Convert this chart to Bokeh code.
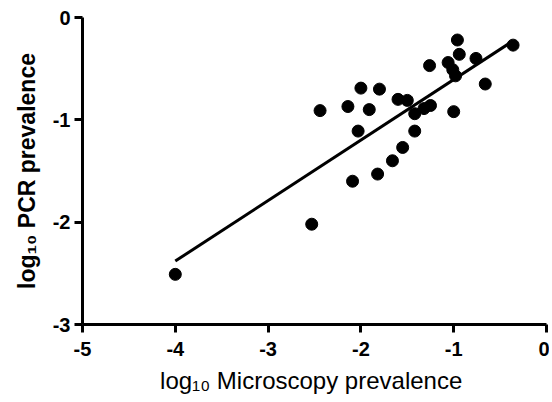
from bokeh.plotting import figure
from bokeh.models import Range1d, FixedTicker
from bokeh.embed import file_html
from bokeh.resources import INLINE

# log10 microscopy prevalence (x) vs log10 PCR prevalence (y)
micro = [-0.96, -0.94, -0.36, -0.76, -1.26, -1.06, -1.01, -0.98, -0.66,
         -2.00, -1.80, -2.44, -2.14, -1.91, -1.60, -1.50, -1.42, -1.32,
         -1.25, -1.00, -2.03, -1.42, -1.55, -1.66, -1.82, -2.09, -2.53, -4.00]
pcr = [-0.22, -0.36, -0.27, -0.40, -0.47, -0.44, -0.51, -0.57, -0.65,
       -0.69, -0.70, -0.91, -0.87, -0.90, -0.80, -0.81, -0.94, -0.89,
       -0.86, -0.92, -1.11, -1.11, -1.27, -1.40, -1.53, -1.60, -2.02, -2.51]

# regression line end points
fit_x = [-4.00, -0.38]
fit_y = [-2.38, -0.24]

x_ticks = [-5, -4, -3, -2, -1, 0]
x_tick_labels = ["-5", "-4", "-3", "-2", "-1", "0"]
y_ticks = [-3, -2, -1, 0]
y_tick_labels = ["-3", "-2", "-1", "0"]

p = figure(width=549, height=398, output_backend="svg", toolbar_location=None,
           x_range=Range1d(-5, 0), y_range=Range1d(-3, 0),
           min_border_left=82, min_border_right=3, min_border_top=17,
           min_border_bottom=74)
p.outline_line_color = None
p.xgrid.grid_line_color = None
p.ygrid.grid_line_color = None
p.background_fill_color = "white"
p.border_fill_color = "white"

p.line(fit_x, fit_y, line_color="black", line_width=3)
p.scatter(micro, pcr, size=12, marker="circle", fill_color="black", line_color="black")

for ax, ticks, labels in ((p.xaxis, x_ticks, x_tick_labels), (p.yaxis, y_ticks, y_tick_labels)):
    ax.ticker = FixedTicker(ticks=ticks)
    ax.major_label_overrides = {t: l for t, l in zip(ticks, labels)}
    ax.axis_line_width = 3
    ax.axis_line_color = "black"
    ax.major_tick_line_width = 3
    ax.major_tick_line_color = "black"
    ax.major_tick_in = 0
    ax.major_tick_out = 8
    ax.minor_tick_line_color = None
    ax.major_label_text_font = "Liberation Sans"
    ax.major_label_text_font_style = "bold"
    ax.major_label_text_font_size = "20px"
    ax.major_label_text_color = "black"
    ax.axis_label_text_font = "Liberation Sans"
    ax.axis_label_text_color = "black"

p.xaxis.major_label_standoff = 9
p.yaxis.major_label_standoff = 4
p.xaxis.axis_label = "log\u2081\u2080  Microscopy prevalence"
p.xaxis.axis_label_text_font_style = "normal"
p.xaxis.axis_label_text_font_size = "24px"
p.xaxis.axis_label_standoff = 8
p.yaxis.axis_label = "log\u2081\u2080 PCR prevalence"
p.yaxis.axis_label_text_font_style = "bold"
p.yaxis.axis_label_text_font_size = "23px"
p.yaxis.axis_label_standoff = 10

open("out.html", "w").write(file_html(p, INLINE))
